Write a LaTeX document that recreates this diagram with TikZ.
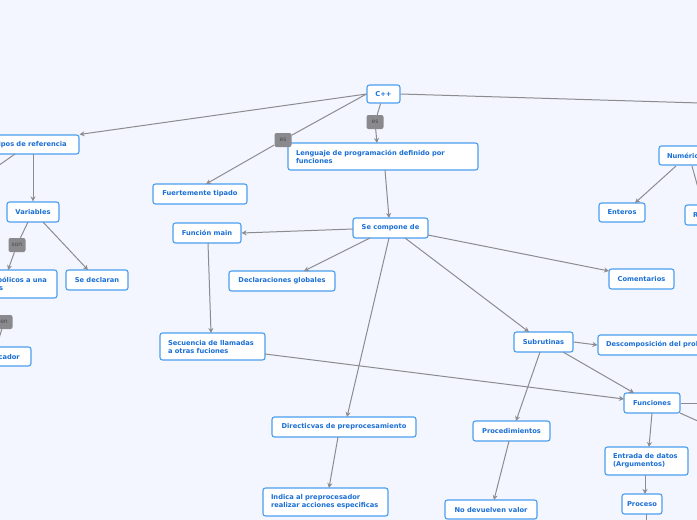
\documentclass[tikz,border=0pt]{standalone}
\usepackage{fontspec}
\setmainfont{DejaVu Sans}
\usetikzlibrary{arrows.meta}
\definecolor{bg}{HTML}{F3F6FE}
\definecolor{bd}{HTML}{4A9EF0}
\definecolor{tx}{HTML}{1A6FD6}
\definecolor{ln}{HTML}{8C8C90}
\definecolor{lb}{HTML}{8A8A8E}
\tikzset{
 bx/.style={draw=bd,line width=1.1pt,fill=white,rounded corners=2.5pt,inner sep=0pt,text=tx,font=\fontsize{6.7}{8}\selectfont\bfseries},
 lbl/.style={fill=lb,rounded corners=2pt,inner sep=0pt,minimum width=17pt,minimum height=14pt,text=black!70,font=\fontsize{6}{7}\selectfont},
 con/.style={draw=ln,line width=1pt},
 arr/.style={con,-{Stealth[length=5pt,width=5pt]}}
}
\newcommand\bx[6]{\node[bx,minimum width={(#4-#2)*1pt},minimum height={(#5-#3)*1pt}] (#1) at ({(#2+#4)/2},{(#3+#5)/2}) {#6};}
\newcommand\bxl[6]{\node[bx,minimum width={(#4-#2)*1pt},minimum height={(#5-#3)*1pt},text width={(#4-#2-16)*1pt},align=left] (#1) at ({(#2+#4)/2},{(#3+#5)/2}) {#6};}
\begin{document}
\begin{tikzpicture}[x=1pt,y=-1pt]
\fill[bg] (0,0) rectangle (697,520);
\useasboundingbox (0,0) rectangle (697,520);
\clip (0,0) rectangle (697,520);
% nodes
\bx{cpp}{367}{85}{400}{103}{C++}
\bxl{tipos}{-14}{135}{79}{154}{Tipos de referencia}
\bxl{leng}{288}{143}{478}{170}{Lenguaje de programación definido por\\funciones}
\bx{fuer}{153}{184}{247}{204}{Fuertemente tipado}
\bx{var}{7}{202}{59}{222}{Variables}
\bx{main}{173}{223}{241}{243}{Función main}
\bx{comp}{353}{218}{428}{238}{Se compone de}
\bx{decl}{229}{271}{335}{291}{Declaraciones globales}
\bxl{nomb}{-60}{270}{57}{298}{Nombres simbólicos a una\\celda de datos}
\bx{sedec}{66}{270}{128}{290}{Se declaran}
\bx{indic}{-27}{347}{31}{366}{Indicador}
\bx{coment}{609}{269}{674}{289}{Comentarios}
\bxl{num}{659}{146}{740}{165}{Numéricos}
\bx{ent}{599}{203}{645}{222}{Enteros}
\bxl{real}{685}{205}{740}{225}{Reales}
\bx{subr}{514}{332}{573}{352}{Subrutinas}
\bxl{desc}{598}{335}{780}{355}{Descomposición del problema}
\bxl{sec}{160}{333}{265}{360}{Secuencia de llamadas\\a otras fuciones}
\bx{func}{624}{393}{680}{413}{Funciones}
\bx{dir}{272}{417}{416}{437}{Directicvas de preprocesamiento}
\bx{proc}{473}{421}{550}{441}{Procedimientos}
\bxl{entr}{605}{447}{688}{475}{Entrada de datos\\(Argumentos)}
\bxl{indica}{263}{488}{388}{516}{Indica al preprocesador\\realizar acciones especificas}
\bx{proceso}{622}{494}{662}{514}{Proceso}
\bx{nodev}{445}{500}{537}{519}{No devuelven valor}
% labels
\node[lbl] (es1) at (283,140) {es};
\node[lbl] (es2) at (375,122) {es};
\node[lbl] (son) at (17,245) {son};
\node[lbl] (en) at (4,322) {en};
\coordinate (r1) at (700,103);
\coordinate (l1) at (-5,168);
\coordinate (enx) at (-3,345);
\coordinate (r2) at (700,403);
\coordinate (r3) at (700,422);
\coordinate (dn) at (646,522);
% connectors
\draw[arr] (cpp.west) -- (tipos.north east);
\draw[con] (cpp.west) -- (es1);
\draw[arr] (es1) -- (206,184);
\draw[con] (cpp) -- (es2);
\draw[arr] (es2) -- (377,143);
\draw[con] (cpp.east) -- (r1);
\draw[arr] (33,154) -- (var.north -| 33,0);
\draw[con] (15,154) -- (l1);
\draw[con] (28,222) -- (son);
\draw[arr] (son) -- (8,270);
\draw[arr] (43,222) -- (88,270);
\draw[con] (en) -- (enx);
\draw[arr] (385,170) -- (389,218);
\draw[arr] (353,229) -- (main.east);
\draw[arr] (370,238) -- (304,271);
\draw[arr] (428,235) -- (609,271);
\draw[arr] (405,238) -- (529,332);
\draw[arr] (389,238) -- (347,417);
\draw[arr] (208,243) -- (211,333);
\draw[arr] (265,354) -- (624,399);
\draw[arr] (subr.east) -- (desc.west);
\draw[arr] (540,352) -- (516,421);
\draw[arr] (563,352) -- (634,393);
\draw[arr] (652,413) -- (649,447);
\draw[arr] (645,475) -- (645,494);
\draw[con] (646,514) -- (dn);
\draw[con] (func.east) -- (r2);
\draw[con] (680,413) -- (r3);
\draw[arr] (676,166) -- (635,203);
\draw[con] (692,166) -- (700,195);
\draw[arr] (338,437) -- (329,488);
\draw[arr] (509,441) -- (494,500);
\end{tikzpicture}
\end{document}
